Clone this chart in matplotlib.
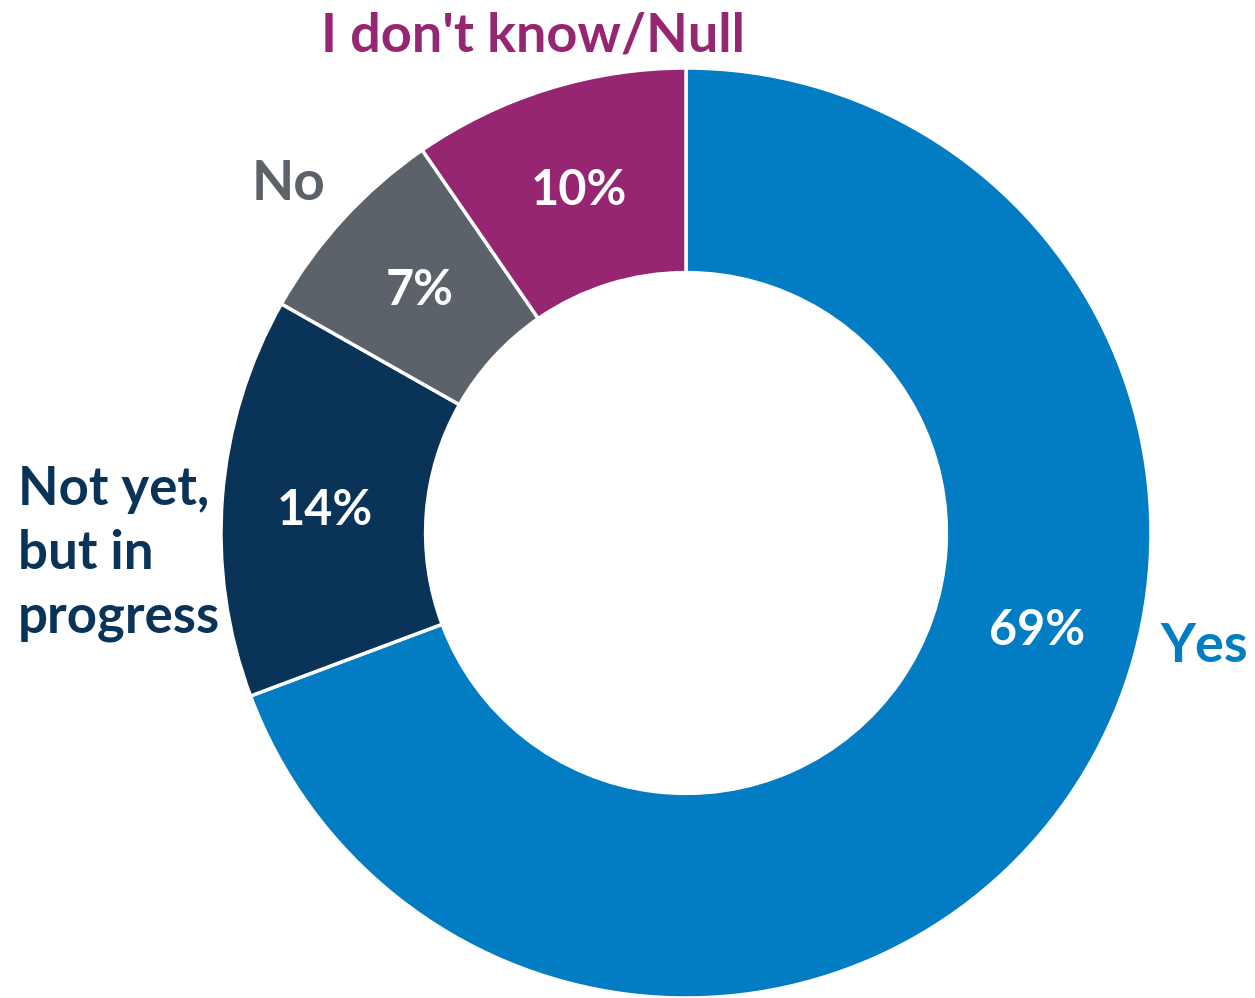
import matplotlib.pyplot as plt

plt.rcParams['font.family'] = ['Lato', 'DejaVu Sans']

# Data (shares, labels show rounded values)
categories = ["Yes", "Not yet,\nbut in\nprogress", "No", "I don't know/Null"]
values = [69.3, 13.9, 7.2, 9.6]
colors = ["#027cc2", "#0a3358", "#5c6269", "#962671"]

W, H = 1255, 998
fig = plt.figure(figsize=(W / 100, H / 100), dpi=100)

# donut: centre (686, 533) px, outer radius 465 px
ax = fig.add_axes([221 / W, 0, 930 / W, 930 / H])
ax.pie(values, colors=colors, startangle=90, counterclock=False, radius=1,
       wedgeprops=dict(width=0.44, edgecolor="white", linewidth=2.5))
ax.set_xlim(-1, 1)
ax.set_ylim(-1, 1)
ax.set_aspect("equal")
ax.axis("off")


def px(x, y):
    return x / W, 1 - y / H


# category labels (x, baseline y of last line in px, size, ha)
cat_pos = [(1160, 662, 39, "left"),
           (18, 632, 38, "left"),
           (288, 200, 39.5, "center"),
           (533, 52, 39, "center")]
for cat, col, (x, y, s, ha) in zip(categories, colors, cat_pos):
    fx, fy = px(x, y)
    fig.text(fx, fy, cat, color=col, fontsize=s, fontweight="bold",
             ha=ha, va="baseline", linespacing=1.36)

# percentage labels (centre x, baseline y in px)
pct_pos = [(1037, 645), (325, 525), (420, 305), (579, 205)]
for v, (x, y) in zip(values, pct_pos):
    fx, fy = px(x, y)
    fig.text(fx, fy, f"{round(v)}%", color="white", fontsize=35,
             fontweight="bold", ha="center", va="baseline")

fig.savefig("out.png", dpi=100)
